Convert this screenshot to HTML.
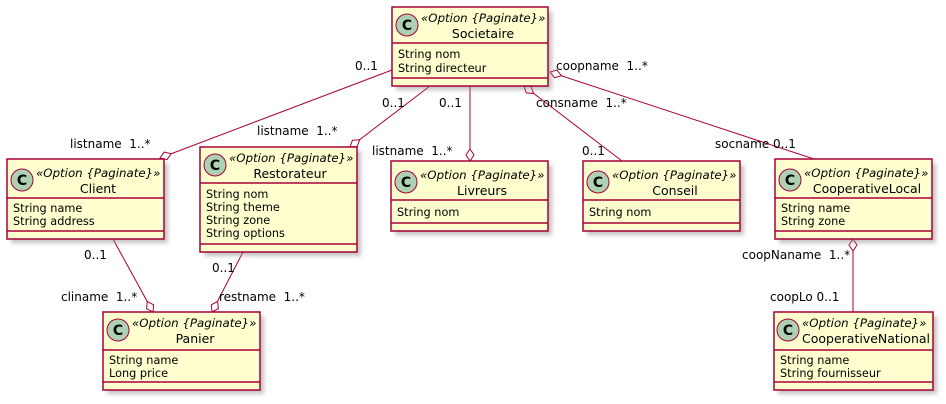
<!DOCTYPE html>
<html><head><meta charset="utf-8"><style>
html,body{margin:0;padding:0;background:#fff;}
svg{display:block;}
text{font-family:"DejaVu Sans","Liberation Sans",sans-serif;fill:#000;white-space:pre;}
.st{font-size:11.8px;font-style:italic;}
.nm{font-size:12.5px;}
.at{font-size:11.3px;}
.lb{font-size:12px;}
</style></head><body>
<svg width="946" height="404" viewBox="0 0 946 404" xmlns="http://www.w3.org/2000/svg" xml:space="preserve">
<defs>
<filter id="sh" x="-10%" y="-10%" width="130%" height="130%"><feGaussianBlur stdDeviation="2"/></filter>
</defs>
<g stroke="#A80036" stroke-width="1" fill="none">
<line x1="392" y1="70" x2="160" y2="158"/>
<line x1="430" y1="86" x2="350" y2="147"/>
<line x1="470" y1="86" x2="470" y2="161"/>
<line x1="524" y1="86" x2="622" y2="161"/>
<line x1="550" y1="72" x2="814" y2="159"/>
<line x1="113" y1="239" x2="153" y2="312"/>
<line x1="243" y1="252" x2="212" y2="312"/>
<line x1="853" y1="239" x2="853" y2="312"/>
</g>
<g stroke="#A80036" stroke-width="1" fill="#fff">
<polygon points="0,0 4,-6 0,-12 -4,-6" transform="translate(160,158) rotate(69)"/>
<polygon points="0,0 4,-6 0,-12 -4,-6" transform="translate(350,147) rotate(53)"/>
<polygon points="0,0 4,-6 0,-12 -4,-6" transform="translate(470,161) rotate(0)"/>
<polygon points="0,0 4,-6 0,-12 -4,-6" transform="translate(524,86) rotate(128)"/>
<polygon points="0,0 4,-6 0,-12 -4,-6" transform="translate(550,72) rotate(108)"/>
<polygon points="0,0 4,-6 0,-12 -4,-6" transform="translate(153,312) rotate(-29)"/>
<polygon points="0,0 4,-6 0,-12 -4,-6" transform="translate(212,312) rotate(28)"/>
<polygon points="0,0 4,-6 0,-12 -4,-6" transform="translate(853,239) rotate(180)"/>
</g>
<g>
<text x="355" y="70" class="lb">0..1</text>
<text x="70" y="148" class="lb">listname  1..*</text>
<text x="382" y="107" class="lb">0..1</text>
<text x="257" y="135" class="lb">listname  1..*</text>
<text x="439" y="107" class="lb">0..1</text>
<text x="372" y="155" class="lb">listname  1..*</text>
<text x="536" y="107" class="lb">consname  1..*</text>
<text x="582" y="155" class="lb">0..1</text>
<text x="556" y="70" class="lb">coopname  1..*</text>
<text x="715" y="148" class="lb">socname 0..1</text>
<text x="84" y="259" class="lb">0..1</text>
<text x="61" y="301" class="lb">cliname  1..*</text>
<text x="212" y="272" class="lb">0..1</text>
<text x="219" y="301" class="lb">restname  1..*</text>
<text x="742" y="259" class="lb">coopNaname  1..*</text>
<text x="770" y="301" class="lb">coopLo 0..1</text>
</g>

<g>
<!-- Societaire -->
<rect x="396" y="11" width="156" height="79" fill="#888" opacity="0.5" filter="url(#sh)"/>
<rect x="392" y="7" width="156" height="79" fill="#FEFECE" stroke="#A80036" stroke-width="1.5"/>
<line x1="392" y1="43" x2="548" y2="43" stroke="#A80036" stroke-width="1.5"/>
<line x1="392" y1="78" x2="548" y2="78" stroke="#A80036" stroke-width="1.5"/>
<circle cx="407" cy="25" r="11" fill="#ADD1B2" stroke="#A80036"/>
<text x="407" y="30" text-anchor="middle" style="font-size:14px;font-weight:bold">C</text>
<text x="421" y="22" class="st">«Option {Paginate}»</text>
<text x="483" y="38" class="nm" text-anchor="middle">Societaire</text>
<text x="398" y="58" class="at">String nom</text>
<text x="398" y="72" class="at">String directeur</text>

<!-- Client -->
<rect x="11" y="163" width="157" height="80" fill="#888" opacity="0.5" filter="url(#sh)"/>
<rect x="7" y="159" width="157" height="80" fill="#FEFECE" stroke="#A80036" stroke-width="1.5"/>
<line x1="7" y1="198" x2="164" y2="198" stroke="#A80036" stroke-width="1.5"/>
<line x1="7" y1="231" x2="164" y2="231" stroke="#A80036" stroke-width="1.5"/>
<circle cx="22" cy="180" r="11" fill="#ADD1B2" stroke="#A80036"/>
<text x="22" y="185" text-anchor="middle" style="font-size:14px;font-weight:bold">C</text>
<text x="36" y="177" class="st">«Option {Paginate}»</text>
<text x="98" y="193" class="nm" text-anchor="middle">Client</text>
<text x="13" y="212" class="at">String name</text>
<text x="13" y="225" class="at">String address</text>

<!-- Restorateur -->
<rect x="204" y="151" width="157" height="105" fill="#888" opacity="0.5" filter="url(#sh)"/>
<rect x="200" y="147" width="157" height="105" fill="#FEFECE" stroke="#A80036" stroke-width="1.5"/>
<line x1="200" y1="183" x2="357" y2="183" stroke="#A80036" stroke-width="1.5"/>
<line x1="200" y1="244" x2="357" y2="244" stroke="#A80036" stroke-width="1.5"/>
<circle cx="215" cy="165" r="11" fill="#ADD1B2" stroke="#A80036"/>
<text x="215" y="170" text-anchor="middle" style="font-size:14px;font-weight:bold">C</text>
<text x="229" y="162" class="st">«Option {Paginate}»</text>
<text x="290" y="178" class="nm" text-anchor="middle">Restorateur</text>
<text x="206" y="198" class="at">String nom</text>
<text x="206" y="211" class="at">String theme</text>
<text x="206" y="224" class="at">String zone</text>
<text x="206" y="237" class="at">String options</text>

<!-- Livreurs -->
<rect x="395" y="165" width="157" height="70" fill="#888" opacity="0.5" filter="url(#sh)"/>
<rect x="391" y="161" width="157" height="70" fill="#FEFECE" stroke="#A80036" stroke-width="1.5"/>
<line x1="391" y1="200" x2="548" y2="200" stroke="#A80036" stroke-width="1.5"/>
<line x1="391" y1="223" x2="548" y2="223" stroke="#A80036" stroke-width="1.5"/>
<circle cx="406" cy="182" r="11" fill="#ADD1B2" stroke="#A80036"/>
<text x="406" y="187" text-anchor="middle" style="font-size:14px;font-weight:bold">C</text>
<text x="420" y="179" class="st">«Option {Paginate}»</text>
<text x="482" y="195" class="nm" text-anchor="middle">Livreurs</text>
<text x="397" y="216" class="at">String nom</text>

<!-- Conseil -->
<rect x="587" y="165" width="157" height="70" fill="#888" opacity="0.5" filter="url(#sh)"/>
<rect x="583" y="161" width="157" height="70" fill="#FEFECE" stroke="#A80036" stroke-width="1.5"/>
<line x1="583" y1="200" x2="740" y2="200" stroke="#A80036" stroke-width="1.5"/>
<line x1="583" y1="223" x2="740" y2="223" stroke="#A80036" stroke-width="1.5"/>
<circle cx="598" cy="182" r="11" fill="#ADD1B2" stroke="#A80036"/>
<text x="598" y="187" text-anchor="middle" style="font-size:14px;font-weight:bold">C</text>
<text x="612" y="179" class="st">«Option {Paginate}»</text>
<text x="675" y="195" class="nm" text-anchor="middle">Conseil</text>
<text x="589" y="216" class="at">String nom</text>

<!-- CooperativeLocal -->
<rect x="779" y="163" width="157" height="80" fill="#888" opacity="0.5" filter="url(#sh)"/>
<rect x="775" y="159" width="157" height="80" fill="#FEFECE" stroke="#A80036" stroke-width="1.5"/>
<line x1="775" y1="198" x2="932" y2="198" stroke="#A80036" stroke-width="1.5"/>
<line x1="775" y1="231" x2="932" y2="231" stroke="#A80036" stroke-width="1.5"/>
<circle cx="790" cy="180" r="11" fill="#ADD1B2" stroke="#A80036"/>
<text x="790" y="185" text-anchor="middle" style="font-size:14px;font-weight:bold">C</text>
<text x="804" y="177" class="st">«Option {Paginate}»</text>
<text x="867" y="193" class="nm" text-anchor="middle">CooperativeLocal</text>
<text x="781" y="212" class="at">String name</text>
<text x="781" y="225" class="at">String zone</text>

<!-- Panier -->
<rect x="107" y="316" width="157" height="78" fill="#888" opacity="0.5" filter="url(#sh)"/>
<rect x="103" y="312" width="157" height="78" fill="#FEFECE" stroke="#A80036" stroke-width="1.5"/>
<line x1="103" y1="350" x2="260" y2="350" stroke="#A80036" stroke-width="1.5"/>
<line x1="103" y1="382" x2="260" y2="382" stroke="#A80036" stroke-width="1.5"/>
<circle cx="118" cy="330" r="11" fill="#ADD1B2" stroke="#A80036"/>
<text x="118" y="335" text-anchor="middle" style="font-size:14px;font-weight:bold">C</text>
<text x="132" y="327" class="st">«Option {Paginate}»</text>
<text x="195" y="343" class="nm" text-anchor="middle">Panier</text>
<text x="109" y="364" class="at">String name</text>
<text x="109" y="377" class="at">Long price</text>

<!-- CooperativeNational -->
<rect x="778" y="316" width="159" height="78" fill="#888" opacity="0.5" filter="url(#sh)"/>
<rect x="774" y="312" width="159" height="78" fill="#FEFECE" stroke="#A80036" stroke-width="1.5"/>
<line x1="774" y1="350" x2="933" y2="350" stroke="#A80036" stroke-width="1.5"/>
<line x1="774" y1="382" x2="933" y2="382" stroke="#A80036" stroke-width="1.5"/>
<circle cx="788" cy="330" r="11" fill="#ADD1B2" stroke="#A80036"/>
<text x="788" y="335" text-anchor="middle" style="font-size:14px;font-weight:bold">C</text>
<text x="802" y="327" class="st">«Option {Paginate}»</text>
<text x="866" y="343" class="nm" text-anchor="middle">CooperativeNational</text>
<text x="780" y="364" class="at">String name</text>
<text x="780" y="377" class="at">String fournisseur</text>
</g>
</svg>
</body></html>
